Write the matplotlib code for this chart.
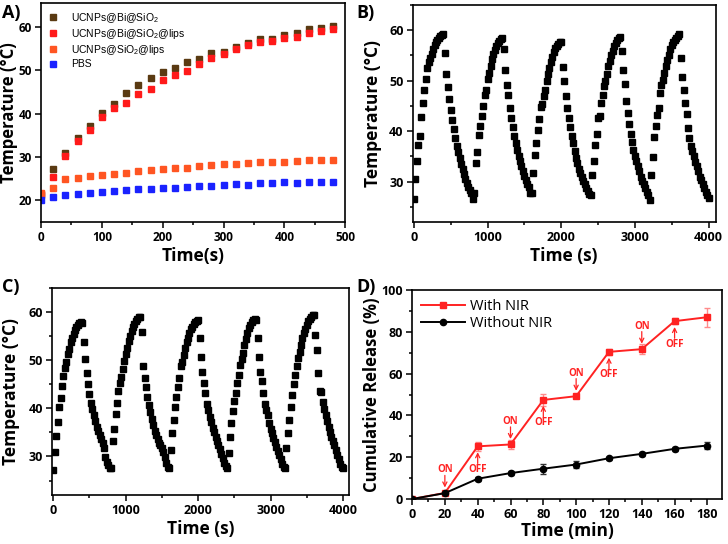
import numpy as np
import matplotlib
matplotlib.use('Agg')
import matplotlib.pyplot as plt
from matplotlib.ticker import MultipleLocator

plt.rcParams['font.family'] = ['Open Sans', 'DejaVu Sans']
plt.rcParams['mathtext.fontset'] = 'custom'
plt.rcParams['mathtext.rm'] = 'Liberation Sans'

# ---- panel A: heating curves ----
time_a = list(range(0, 500, 20))
bi_sio2 = [21.3, 27.1, 31.0, 34.3, 37.2, 40.2, 42.2, 44.7, 46.6, 48.3, 49.6, 50.5, 51.9,
           52.6, 53.9, 54.3, 55.4, 56.2, 57.1, 57.2, 58.0, 58.6, 59.4, 59.8, 60.2]
bi_sio2_lips = [21.5, 25.4, 30.1, 33.7, 36.3, 39.1, 41.2, 42.5, 44.4, 45.6, 47.7, 48.9, 49.8,
                51.4, 52.7, 53.7, 54.9, 55.7, 56.4, 56.8, 57.4, 57.6, 58.5, 59.1, 59.4]
sio2_lips = [21.6, 22.9, 24.8, 25.2, 25.6, 25.8, 26.0, 26.4, 26.7, 27.0, 27.1, 27.4, 27.5,
             28.0, 28.1, 28.4, 28.4, 28.5, 28.8, 28.8, 28.9, 29.1, 29.2, 29.2, 29.4]
pbs = [20.0, 20.8, 21.2, 21.4, 21.7, 21.9, 22.2, 22.4, 22.6, 22.7, 22.8, 22.9, 23.0,
       23.2, 23.4, 23.6, 23.8, 23.6, 23.9, 23.9, 24.1, 24.0, 24.1, 24.1, 24.1]

# ---- panel B: five on/off cycles, sampled every 20 s ----
time_cycle = np.arange(0, 4001, 20)
temp_b = [
    26.6, 30.6, 34.0, 37.2, 39.0, 42.8, 45.6, 48.1, 50.3, 52.4, 53.6, 54.4, 55.3, 56.2, 57.1, 57.7, 58.1, 58.5, 58.8, 59.0, 59.2,
    55.4, 51.4, 48.8, 46.4, 44.2, 42.2, 40.4, 38.6, 37.1, 35.8, 34.6, 33.5, 32.5, 31.5, 30.6, 29.8, 29.0, 28.3, 27.8,
    26.5, 27.8, 33.6, 35.8, 39.3, 41.1, 43.0, 44.9, 47.2, 48.1, 50.4, 51.6, 52.9, 54.3, 55.3, 56.0, 56.8, 57.4, 57.9, 58.2, 58.4,
    56.2, 52.1, 49.1, 47.2, 44.6, 42.5, 40.9, 39.0, 37.7, 36.2, 35.0, 34.0, 33.0, 32.1, 31.2, 30.4, 29.6, 28.9, 27.7,
    27.8, 31.7, 35.2, 37.7, 40.3, 42.3, 44.8, 45.3, 47.0, 48.1, 49.9, 51.3, 52.4, 53.6, 54.6, 55.6, 56.4, 56.9, 57.3, 57.6, 57.7,
    52.7, 49.9, 47.0, 44.6, 42.5, 40.9, 39.1, 37.7, 36.0, 34.7, 33.7, 32.5, 31.7, 30.9, 30.2, 29.5, 28.8, 28.2, 27.6,
    27.3, 31.3, 34.0, 37.3, 39.5, 42.6, 42.9, 45.5, 47.1, 48.9, 50.0, 51.4, 52.9, 53.9, 55.0, 55.9, 56.9, 57.5, 58.1, 58.4, 58.7,
    55.9, 52.2, 49.3, 45.9, 43.6, 41.5, 39.5, 37.8, 36.3, 35.1, 34.0, 33.0, 32.0, 31.0, 30.2, 29.5, 28.7, 28.0, 27.4,
    26.4, 31.3, 34.8, 38.8, 41.1, 43.1, 44.6, 47.5, 49.1, 50.2, 51.6, 52.9, 54.1, 55.0, 56.2, 57.0, 57.7, 58.1, 58.5, 58.9, 59.2,
    54.4, 50.8, 48.1, 45.6, 43.3, 40.6, 38.6, 37.1, 36.0, 35.0, 33.8, 33.0, 32.0, 31.0, 30.3, 29.5, 28.7, 28.0, 27.4,
    26.7]

# ---- panel C ----
temp_c = [
    27.2, 31.0, 34.2, 37.1, 40.2, 42.2, 44.7, 46.7, 48.3, 49.7, 51.3, 52.3, 53.7, 54.6, 55.5, 56.3, 56.9, 57.4, 57.7, 58.0, 57.7,
    53.7, 50.3, 47.4, 45.0, 42.9, 41.2, 39.8, 38.6, 37.4, 36.2, 35.3, 34.4, 33.6, 32.7, 31.7, 29.9, 28.9, 28.2, 27.7,
    27.7, 33.3, 35.8, 38.9, 41.2, 43.5, 45.2, 46.6, 48.2, 49.9, 51.3, 52.6, 54.0, 55.1, 56.1, 56.9, 57.5, 58.1, 58.5, 58.9, 59.0,
    55.8, 48.7, 46.4, 44.4, 42.4, 40.7, 39.3, 37.8, 36.5, 35.3, 34.4, 33.6, 32.9, 32.3, 31.7, 31.0, 29.9, 28.7, 27.9,
    27.6, 31.3, 34.8, 37.6, 40.3, 42.4, 44.5, 46.3, 48.7, 49.7, 51.1, 52.5, 53.8, 54.7, 55.6, 56.5, 57.0, 57.5, 57.9, 58.2, 58.3,
    54.6, 50.6, 47.5, 45.2, 43.1, 41.0, 39.7, 38.3, 37.1, 36.0, 35.0, 34.1, 33.2, 32.4, 31.5, 30.6, 29.6, 28.7, 28.0,
    27.7, 30.8, 34.1, 36.9, 39.4, 41.5, 43.1, 45.2, 46.9, 48.9, 50.3, 51.5, 53.2, 54.4, 55.6, 56.7, 57.4, 57.9, 58.3, 58.5, 58.4,
    54.6, 50.6, 47.5, 45.6, 43.1, 41.0, 39.7, 38.6, 37.0, 35.8, 34.8, 33.9, 33.1, 32.0, 31.1, 30.3, 29.4, 28.5, 27.8,
    27.7, 31.7, 34.8, 37.6, 40.3, 42.8, 45.0, 46.9, 48.7, 50.4, 51.8, 53.2, 54.6, 55.6, 56.5, 57.4, 58.1, 58.6, 59.0, 59.3, 59.4,
    55.2, 52.2, 47.4, 43.7, 43.3, 41.3, 39.9, 38.7, 37.4, 36.2, 35.0, 34.0, 33.2, 32.4, 31.4, 30.4, 29.4, 28.5, 27.9,
    27.7]

# ---- panel D: release ----
time_d = [0, 20, 40, 60, 80, 100, 120, 140, 160, 180]
with_nir = [0, 2.9, 25.2, 26.1, 47.4, 49.2, 70.4, 71.7, 85.1, 87.0]
with_nir_err = [0, 0.5, 2.0, 2.0, 2.7, 1.0, 1.5, 2.5, 1.5, 4.6]
without_nir = [0, 2.8, 9.7, 12.4, 14.5, 16.5, 19.5, 21.6, 24.0, 25.6]
without_nir_err = [0, 0.5, 1.0, 0.8, 2.4, 1.5, 0.8, 0.8, 1.0, 1.5]
on_times = [20, 60, 100, 140]
off_times = [40, 80, 120, 160]

RED = '#ff2222'
fig = plt.figure(figsize=(7.28, 5.44), dpi=100)

def style(ax, minor_x=None, minor_y=None, size=9):
    for s in ax.spines.values():
        s.set_linewidth(1.2)
    ax.tick_params(which='both', top=False, right=False, direction='out', width=1.1)
    ax.tick_params(which='major', length=4, labelsize=size, pad=2.5)
    ax.tick_params(which='minor', length=2.5)
    if minor_x:
        ax.xaxis.set_minor_locator(MultipleLocator(minor_x))
    if minor_y:
        ax.yaxis.set_minor_locator(MultipleLocator(minor_y))
    for lab in ax.get_xticklabels() + ax.get_yticklabels():
        lab.set_fontweight('bold')

# A
axA = fig.add_axes([0.0563, 0.592, 0.418, 0.4026])
axA.plot(time_a, bi_sio2, 's', color='#5a3a12', ms=4.5, label=r'UCNPs@Bi@SiO$_2$')
axA.plot(time_a, bi_sio2_lips, 's', color='#ff1a1a', ms=4.5, label=r'UCNPs@Bi@SiO$_2$@lips')
axA.plot(time_a, sio2_lips, 's', color='#ff5522', ms=4.5, label=r'UCNPs@SiO$_2$@lips')
axA.plot(time_a, pbs, 's', color='#1a22ff', ms=4.5, label='PBS')
axA.set_xlim(0, 500)
axA.set_ylim(15, 65.5)
axA.xaxis.set_major_locator(MultipleLocator(100))
axA.yaxis.set_major_locator(MultipleLocator(10))
style(axA, minor_x=50, size=8.5)
axA.set_xlabel('Time(s)', fontsize=12.5, fontweight='bold', labelpad=2)
axA.set_ylabel('Temperature (°C)', fontsize=12, fontweight='bold')
axA.yaxis.set_label_coords(-0.076, 0.5)
axA.legend(loc='upper left', frameon=False, prop={'family': 'Liberation Sans', 'size': 7.5},
           handletextpad=1.3, labelspacing=0.22, borderaxespad=0.35, handlelength=0.8)

# B
axB = fig.add_axes([0.567, 0.592, 0.416, 0.399])
axB.plot(time_cycle, temp_b, 's', color='black', ms=3.7)
axB.set_xlim(-15, 4095)
axB.set_ylim(22, 65)
axB.xaxis.set_major_locator(MultipleLocator(1000))
axB.yaxis.set_major_locator(MultipleLocator(10))
style(axB, minor_x=500, minor_y=5)
axB.set_xlabel('Time (s)', fontsize=12.5, fontweight='bold', labelpad=2)
axB.set_ylabel('Temperature (°C)', fontsize=12.5, fontweight='bold')
axB.yaxis.set_label_coords(-0.102, 0.5)

# C
axC = fig.add_axes([0.0714, 0.0901, 0.408, 0.3805])
axC.plot(time_cycle, temp_c, 's', color='black', ms=3.7)
axC.set_xlim(-18, 4083)
axC.set_ylim(22, 65)
axC.xaxis.set_major_locator(MultipleLocator(1000))
axC.yaxis.set_major_locator(MultipleLocator(10))
style(axC, minor_x=500, minor_y=5)
axC.set_xlabel('Time (s)', fontsize=12.5, fontweight='bold', labelpad=2)
axC.set_ylabel('Temperature (°C)', fontsize=12.5, fontweight='bold')
axC.yaxis.set_label_coords(-0.108, 0.5)

# D
axD = fig.add_axes([0.566, 0.0827, 0.426, 0.3842])
axD.errorbar(time_d, with_nir, yerr=with_nir_err, fmt='none', ecolor='#ff8a8a',
             elinewidth=1, capsize=2)
axD.errorbar(time_d, without_nir, yerr=without_nir_err, fmt='none', ecolor='#333333',
             elinewidth=1, capsize=2)
axD.plot(time_d, with_nir, color=RED, marker='s', ms=4.5, lw=1.4, label='With NIR')
axD.plot(time_d, without_nir, color='black', marker='o', ms=4.5, lw=1.4, label='Without NIR')
for t in on_times:
    y = with_nir[time_d.index(t)]
    axD.text(t, y + 11, 'ON', ha='center', va='center', color=RED, fontsize=7, fontweight='bold')
    axD.annotate('', xy=(t, y + 2.6), xytext=(t, y + 8.4),
                 arrowprops=dict(arrowstyle='->,head_length=0.3,head_width=0.15', color=RED,
                                 lw=0.9, shrinkA=0, shrinkB=0))
for t in off_times:
    y = with_nir[time_d.index(t)]
    axD.text(t, y - 11, 'OFF', ha='center', va='center', color=RED, fontsize=7, fontweight='bold')
    axD.annotate('', xy=(t, y - 2.8), xytext=(t, y - 8.2),
                 arrowprops=dict(arrowstyle='->,head_length=0.3,head_width=0.15', color=RED,
                                 lw=0.9, shrinkA=0, shrinkB=0))
axD.set_xlim(0, 189)
axD.set_ylim(0, 100)
axD.xaxis.set_major_locator(MultipleLocator(20))
axD.yaxis.set_major_locator(MultipleLocator(20))
style(axD, minor_x=10, minor_y=10)
axD.set_xlabel('Time (min)', fontsize=12.5, fontweight='bold', labelpad=1)
axD.set_ylabel('Cumulative Release (%)', fontsize=12, fontweight='bold')
axD.yaxis.set_label_coords(-0.1, 0.5)
axD.legend(loc='upper left', frameon=False, fontsize=10.5, handlelength=3,
           handletextpad=0.4, labelspacing=0.15, borderaxespad=0.2)

for txt, x, y in [('A)', 0.003, 0.976), ('B)', 0.490, 0.976), ('C)', 0.003, 0.472), ('D)', 0.490, 0.472)]:
    fig.text(x, y, txt, fontsize=13, fontweight='bold', va='center', ha='left')

fig.savefig('out.png', dpi=100)
